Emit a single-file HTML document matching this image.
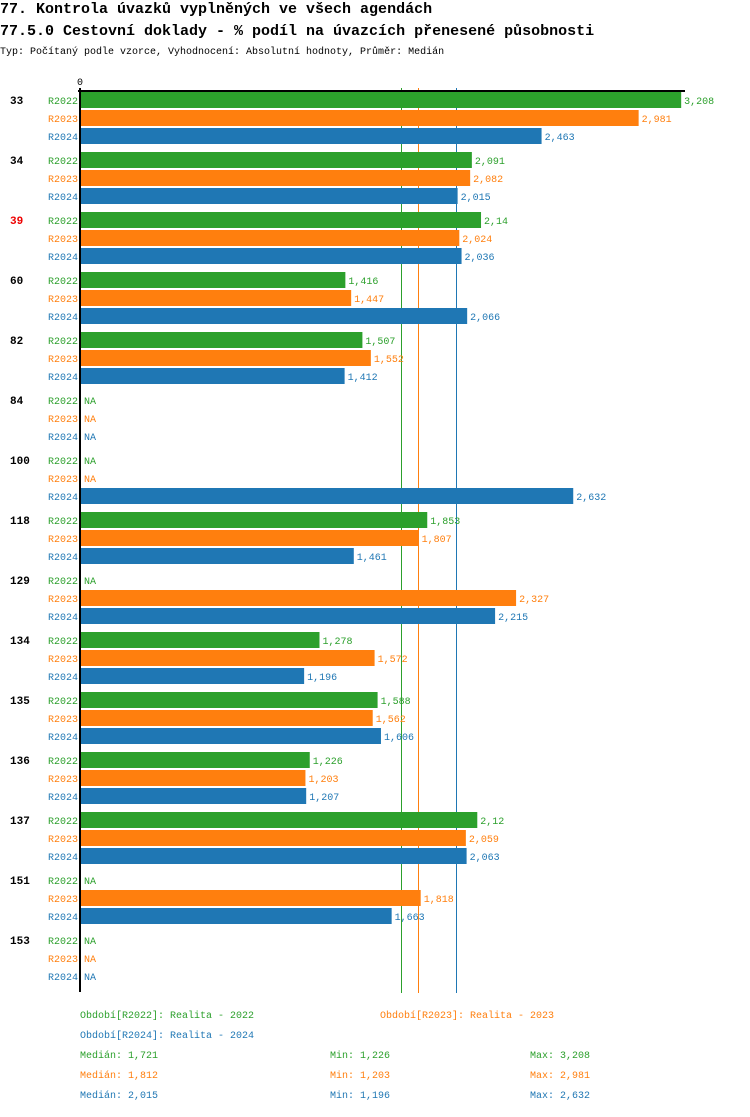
<!DOCTYPE html>
<html><head><meta charset="utf-8"><style>
body{margin:0;background:#fff;width:750px;height:1112px;overflow:hidden}
svg{font-family:"Liberation Mono",monospace}
</style></head><body>
<svg id="c" width="750" height="1112">
<text x="0" y="13" font-size="15" font-weight="bold">77. Kontrola úvazků vyplněných ve všech agendách</text>
<text x="0" y="35" font-size="15" font-weight="bold">77.5.0 Cestovní doklady - % podíl na úvazcích přenesené působnosti</text>
<text x="0" y="54" font-size="10">Typ: Počítaný podle vzorce, Vyhodnocení: Absolutní hodnoty, Průměr: Medián</text>
<text x="80" y="85" font-size="10" text-anchor="middle">0</text>
</svg>
<script>
const groups=["33","34","39","60","82","84","100","118","129","134","135","136","137","151","153"];
const series=["R2022","R2023","R2024"];
const colors=["#2ca02c","#ff7f0e","#1f77b4"];
const v2022=[3.208,2.091,2.14,1.416,1.507,null,null,1.853,null,1.278,1.588,1.226,2.12,null,null];
const v2023=[2.981,2.082,2.024,1.447,1.552,null,null,1.807,2.327,1.572,1.562,1.203,2.059,1.818,null];
const v2024=[2.463,2.015,2.036,2.066,1.412,null,2.632,1.461,2.215,1.196,1.606,1.207,2.063,1.663,null];
const medians=[1.721,1.812,2.015];
const mins=[1.226,1.203,1.196];
const maxs=[3.208,2.981,2.632];
const vals=[v2022,v2023,v2024];
const svgEl=document.getElementById('c');
const NS="http://www.w3.org/2000/svg";
const xs=v=>80+v*187.4;
const ys=(g,s)=>100+g*60+s*18;
function mk(t,a){const e=document.createElementNS(NS,t);for(const k in a)e.setAttribute(k,a[k]);svgEl.appendChild(e);return e;}
function fmt(v){return String(v).replace('.',',');}
medians.forEach((m,i)=>{
  const px=Math.round(xs(m))-1.5;
  const l=mk('line',{x1:px,x2:px,y1:88,y2:993,stroke:colors[i],'stroke-width':1});
  
  
});
groups.forEach((g,gi)=>{
  const t=mk('text',{x:10,y:ys(gi,0)+4,'font-size':11,'font-weight':'bold',fill:g==="39"?"#e00":"#000"});
  t.textContent=g;
  
  
  series.forEach((s,si)=>{
    const yy=ys(gi,si);
    const l=mk('text',{x:78,y:yy+4,'font-size':10,'text-anchor':'end',fill:colors[si]});
    l.textContent=s;
    
    
    const v=vals[si][gi];
    if(v==null){
      const n=mk('text',{x:84,y:yy+4,'font-size':10,fill:colors[si]});n.textContent="NA";
      
      
    }else{
      const r=mk('rect',{x:80,y:yy-8,width:xs(v)-80,height:16,fill:colors[si]});
      
      
      const n=mk('text',{x:xs(v)+3,y:yy+4,'font-size':10,fill:colors[si]});n.textContent=fmt(v);
      
      
    }
  });
});
const yAxis=mk('line',{x1:80,x2:80,y1:88,y2:992,stroke:'#000','stroke-width':2});


const xAxis=mk('line',{x1:78,x2:685,y1:91,y2:91,stroke:'#000','stroke-width':2});


const legend=[[80,1018,0,"Období[R2022]: Realita - 2022"],[380,1018,1,"Období[R2023]: Realita - 2023"],[80,1038,2,"Období[R2024]: Realita - 2024"]];
legend.forEach(L=>{const t=mk('text',{x:L[0],y:L[1],'font-size':10,fill:colors[L[2]]});t.textContent=L[3];
  
  });
[0,1,2].forEach(i=>{
  const yy=1058+i*20;
  [[80,"Medián: "+fmt(medians[i])],[330,"Min: "+fmt(mins[i])],[530,"Max: "+fmt(maxs[i])]].forEach(p=>{
    const t=mk('text',{x:p[0],y:yy,'font-size':10,fill:colors[i]});t.textContent=p[1];
    
    
  });
});
</script>
</body></html>
